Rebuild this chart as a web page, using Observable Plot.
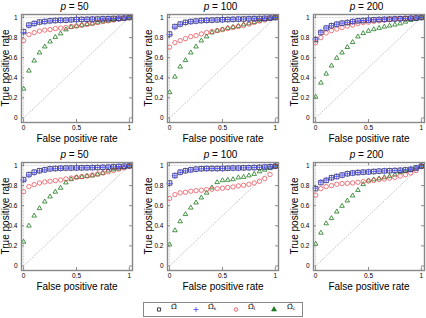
<!DOCTYPE html>
<html>
<head>
<meta charset="utf-8">
<script src="https://cdn.jsdelivr.net/npm/d3@7"></script>
<script src="https://cdn.jsdelivr.net/npm/@observablehq/plot@0.6"></script>
<style>
  body { margin: 0; background: #fff; font-family: "Liberation Sans", Arial, sans-serif; }
  #chart { position: relative; width: 426px; height: 318px; overflow: hidden; background: #fff; }
  .panel { position: absolute; }
  .title { position: absolute; font-size: 10px; line-height: 1; transform: translate(-50%, -50%); white-space: nowrap; color: #000; }
  .ylabel { position: absolute; font-size: 10px; line-height: 1; transform: translate(-50%, -50%) rotate(-90deg); white-space: nowrap; color: #000; }
  #legend { position: absolute; left: 143px; top: 302px; width: 158px; height: 13px; border: 1px solid #888; background: #fff; }
  #legend .sym { position: absolute; top: 0; }
  #legend .lab { position: absolute; top: 1px; font-family: "DejaVu Serif", serif; font-size: 7px; line-height: 1; white-space: nowrap; }
  #legend sub { font-size: 4.5px; vertical-align: -1px; }
</style>
</head>
<body>
<div id="chart"></div>
<script>
// False positive rates at which each estimator was evaluated
const fpr = [0, 0.05, 0.1, 0.15, 0.2, 0.25, 0.3, 0.35, 0.4, 0.45, 0.5,
             0.55, 0.6, 0.65, 0.7, 0.75, 0.8, 0.85, 0.9, 0.95, 1];

// Panel titles (row by row)
const dims = [50, 100, 200, 50, 100, 200];

// True positive rates, one row per panel
const omegaHat = [
  [0.86, 0.925, 0.94, 0.955, 0.96, 0.967, 0.97, 0.973, 0.973, 0.977, 0.98, 0.981, 0.982, 0.984, 0.985, 0.987, 0.988, 0.99, 0.992, 0.995, 1],
  [0.836, 0.91, 0.935, 0.952, 0.96, 0.965, 0.97, 0.972, 0.974, 0.976, 0.978, 0.98, 0.982, 0.984, 0.985, 0.987, 0.989, 0.99, 0.992, 0.995, 1],
  [0.78, 0.85, 0.895, 0.918, 0.934, 0.944, 0.95, 0.96, 0.967, 0.97, 0.974, 0.977, 0.98, 0.982, 0.984, 0.986, 0.988, 0.99, 0.993, 0.996, 1],
  [0.86, 0.91, 0.934, 0.948, 0.957, 0.967, 0.97, 0.973, 0.975, 0.975, 0.976, 0.977, 0.978, 0.979, 0.98, 0.982, 0.984, 0.987, 0.99, 0.993, 0.996],
  [0.826, 0.9, 0.934, 0.948, 0.957, 0.964, 0.968, 0.97, 0.97, 0.97, 0.971, 0.973, 0.975, 0.975, 0.977, 0.978, 0.98, 0.982, 0.985, 0.988, 0.993],
  [0.77, 0.83, 0.852, 0.878, 0.89, 0.905, 0.918, 0.925, 0.93, 0.934, 0.936, 0.94, 0.944, 0.946, 0.948, 0.95, 0.953, 0.957, 0.962, 0.975, 0.993]
];
const omegaS = [
  [0.85, 0.92, 0.94, 0.953, 0.96, 0.965, 0.97, 0.972, 0.974, 0.976, 0.979, 0.98, 0.982, 0.983, 0.985, 0.987, 0.988, 0.99, 0.992, 0.995, 1],
  [0.83, 0.905, 0.932, 0.95, 0.958, 0.964, 0.969, 0.972, 0.974, 0.976, 0.978, 0.98, 0.982, 0.983, 0.985, 0.987, 0.989, 0.99, 0.992, 0.995, 1],
  [0.785, 0.855, 0.895, 0.918, 0.933, 0.944, 0.952, 0.96, 0.966, 0.97, 0.974, 0.977, 0.98, 0.982, 0.984, 0.986, 0.988, 0.99, 0.993, 0.996, 1],
  [0.855, 0.905, 0.93, 0.946, 0.956, 0.965, 0.969, 0.972, 0.974, 0.975, 0.976, 0.977, 0.978, 0.979, 0.98, 0.982, 0.984, 0.987, 0.99, 0.993, 0.996],
  [0.82, 0.898, 0.932, 0.947, 0.956, 0.963, 0.967, 0.969, 0.97, 0.97, 0.971, 0.973, 0.975, 0.975, 0.977, 0.978, 0.98, 0.982, 0.985, 0.988, 0.993],
  [0.775, 0.835, 0.855, 0.878, 0.892, 0.905, 0.918, 0.925, 0.93, 0.934, 0.937, 0.94, 0.944, 0.946, 0.948, 0.95, 0.953, 0.957, 0.962, 0.975, 0.993]
];
const omegaL = [
  [0.77, 0.83, 0.85, 0.865, 0.875, 0.88, 0.89, 0.895, 0.9, 0.91, 0.915, 0.922, 0.93, 0.94, 0.95, 0.96, 0.967, 0.975, 0.983, 0.99, 1],
  [0.705, 0.75, 0.77, 0.79, 0.81, 0.82, 0.836, 0.85, 0.86, 0.87, 0.88, 0.89, 0.9, 0.91, 0.92, 0.935, 0.95, 0.965, 0.975, 0.99, 1],
  [0.75, 0.8, 0.846, 0.87, 0.885, 0.9, 0.915, 0.925, 0.94, 0.95, 0.954, 0.962, 0.967, 0.974, 0.98, 0.984, 0.988, 0.991, 0.994, 0.997, 1],
  [0.74, 0.79, 0.81, 0.826, 0.836, 0.843, 0.85, 0.856, 0.866, 0.875, 0.882, 0.89, 0.895, 0.905, 0.915, 0.925, 0.938, 0.95, 0.964, 0.977, 0.993],
  [0.672, 0.71, 0.728, 0.734, 0.744, 0.75, 0.754, 0.76, 0.764, 0.77, 0.774, 0.78, 0.787, 0.797, 0.803, 0.813, 0.826, 0.843, 0.87, 0.91, 0.993],
  [0.705, 0.77, 0.79, 0.8, 0.813, 0.82, 0.823, 0.826, 0.833, 0.84, 0.846, 0.852, 0.86, 0.866, 0.875, 0.882, 0.895, 0.908, 0.925, 0.95, 0.993]
];
const omegaC = [
  [0.29, 0.47, 0.57, 0.65, 0.71, 0.76, 0.805, 0.84, 0.88, 0.905, 0.915, 0.925, 0.933, 0.94, 0.95, 0.96, 0.967, 0.975, 0.983, 0.99, 1],
  [0.255, 0.41, 0.51, 0.574, 0.65, 0.71, 0.77, 0.81, 0.85, 0.868, 0.88, 0.895, 0.905, 0.915, 0.93, 0.94, 0.954, 0.967, 0.98, 0.99, 1],
  [0.21, 0.35, 0.44, 0.52, 0.597, 0.65, 0.705, 0.754, 0.81, 0.843, 0.866, 0.882, 0.895, 0.908, 0.918, 0.928, 0.94, 0.957, 0.974, 0.984, 1],
  [0.24, 0.4, 0.5, 0.574, 0.64, 0.69, 0.738, 0.777, 0.83, 0.862, 0.882, 0.885, 0.895, 0.9, 0.91, 0.925, 0.948, 0.96, 0.967, 0.98, 0.993],
  [0.213, 0.354, 0.443, 0.515, 0.58, 0.63, 0.68, 0.728, 0.78, 0.833, 0.852, 0.856, 0.862, 0.88, 0.885, 0.9, 0.915, 0.94, 0.957, 0.974, 0.993],
  [0.22, 0.33, 0.423, 0.475, 0.54, 0.597, 0.65, 0.7, 0.754, 0.813, 0.85, 0.86, 0.87, 0.882, 0.892, 0.908, 0.934, 0.944, 0.96, 0.977, 0.993]
];

// Reference curves: random guessing and a perfect classifier
const chanceLine = [{fpr: 0, tpr: 0}, {fpr: 1, tpr: 1}];
const idealCurve = [{fpr: 0, tpr: 0}, {fpr: 0, tpr: 1}, {fpr: 1, tpr: 1}];

// Axis ticks
const xTicks = [0, 0.5, 1];
const yTicks = [0, 0.2, 0.4, 0.6, 0.8, 1];

const xDomain = [-0.02, 1.03];
const yDomain = [-0.045, 1.03];

const colors = {sq: "#26265a", plus: "#4a4aff", circ: "#e8404a", tri: "#1d7a1d"};

const chart = document.getElementById("chart");
const frameW = 111, frameH = 108;
const m = {left: 21, right: 4, top: 14, bottom: 28};
const frameLeft = [21, 167, 313];
const frameTop = [14, 162];

const rows = (vals) => fpr.map((x, i) => ({fpr: x, tpr: vals[i]}));

function addLabel(cls, html, left, top) {
  const el = document.createElement("div");
  el.className = cls;
  el.innerHTML = html;
  el.style.left = left + "px";
  el.style.top = top + "px";
  chart.appendChild(el);
}

dims.forEach((p, k) => {
  const col = k % 3, row = Math.floor(k / 3);
  const svg = Plot.plot({
    width: m.left + frameW + m.right,
    height: m.top + frameH + m.bottom,
    marginLeft: m.left, marginRight: m.right, marginTop: m.top, marginBottom: m.bottom,
    style: {fontFamily: "Liberation Sans, Arial, sans-serif", fontSize: "6.5px", background: "transparent", overflow: "visible", color: "#000"},
    x: {domain: xDomain, axis: null},
    y: {domain: yDomain, axis: null},
    marks: [
      Plot.line(chanceLine, {x: "fpr", y: "tpr", stroke: "#b8b8b8", strokeWidth: 0.8, strokeDasharray: "1,2"}),
      Plot.line(idealCurve, {x: "fpr", y: "tpr", stroke: "#c8c8c8", strokeWidth: 0.8, strokeDasharray: "1,2"}),
      // inward ticks on all four sides
      Plot.ruleX(xTicks, {x: d => d, y1: yDomain[0], y2: yDomain[0] + 0.03, stroke: "#555", strokeWidth: 0.7}),
      Plot.ruleX(xTicks, {x: d => d, y1: yDomain[1] - 0.03, y2: yDomain[1], stroke: "#555", strokeWidth: 0.7}),
      Plot.ruleY(yTicks, {y: d => d, x1: xDomain[0], x2: xDomain[0] + 0.028, stroke: "#555", strokeWidth: 0.7}),
      Plot.ruleY(yTicks, {y: d => d, x1: xDomain[1] - 0.028, x2: xDomain[1], stroke: "#555", strokeWidth: 0.7}),
      Plot.dot(rows(omegaC[k]), {x: "fpr", y: "tpr", symbol: "triangle", r: 1.7, stroke: colors.tri, strokeWidth: 0.8}),
      Plot.dot(rows(omegaL[k]), {x: "fpr", y: "tpr", symbol: "circle", r: 2.2, stroke: colors.circ, strokeWidth: 0.7}),
      Plot.dot(rows(omegaHat[k]), {x: "fpr", y: "tpr", symbol: "square", r: 2.5, stroke: colors.sq, strokeWidth: 0.8}),
      Plot.dot(rows(omegaS[k]), {x: "fpr", y: "tpr", symbol: "plus", r: 2.2, stroke: colors.plus, strokeWidth: 0.8}),
      Plot.axisX(xTicks, {tickSize: 0, tickPadding: 2.5, tickFormat: d => String(d), label: null}),
      Plot.axisY(yTicks, {tickSize: 0, tickPadding: 4, tickFormat: d => String(d), label: null}),
      Plot.text(["False positive rate"], {text: d => d, frameAnchor: "bottom", lineAnchor: "middle", dy: 16.5, fontSize: 10}),
      Plot.frame({stroke: "#888", strokeWidth: 1.4})
    ]
  });
  svg.classList.add("panel");
  svg.style.left = (frameLeft[col] - m.left) + "px";
  svg.style.top = (frameTop[row] - m.top) + "px";
  chart.appendChild(svg);

  addLabel("title", `<i>p</i> = ${p}`, frameLeft[col] + frameW / 2 - 2, frameTop[row] - 7);
  addLabel("ylabel", "True positive rate", Math.max(frameLeft[col] - 18.5, 5.5), frameTop[row] + frameH / 2);
});

// Legend
const legendItems = [
  {symbol: d3.symbolSquare, color: "#111", label: "\u03A9\u0302", sub: "", sx: 15, lx: 27},
  {symbol: d3.symbolPlus, color: colors.plus, label: "\u03A9\u0302", sub: "s", sx: 52, lx: 64},
  {symbol: d3.symbolCircle, color: colors.circ, label: "\u03A9\u0302", sub: "l", sx: 92, lx: 104},
  {symbol: d3.symbolTriangle, color: colors.tri, label: "\u03A9\u0302", sub: "c", sx: 130, lx: 143}
];
const legend = document.createElement("div");
legend.id = "legend";
legendItems.forEach(it => {
  const s = d3.create("svg").attr("class", "sym").attr("width", 8).attr("height", 13)
    .style("left", (it.sx - 4) + "px");
  s.append("path").attr("transform", "translate(4,6.5)")
    .attr("d", d3.symbol(it.symbol, 10)())
    .attr("fill", it.symbol === d3.symbolTriangle ? it.color : "none")
    .attr("stroke", it.color).attr("stroke-width", 0.8);
  legend.appendChild(s.node());
  const l = document.createElement("div");
  l.className = "lab";
  l.style.left = it.lx + "px";
  l.innerHTML = it.label + (it.sub ? `<sub>${it.sub}</sub>` : "");
  legend.appendChild(l);
});
chart.appendChild(legend);
</script>
</body>
</html>
